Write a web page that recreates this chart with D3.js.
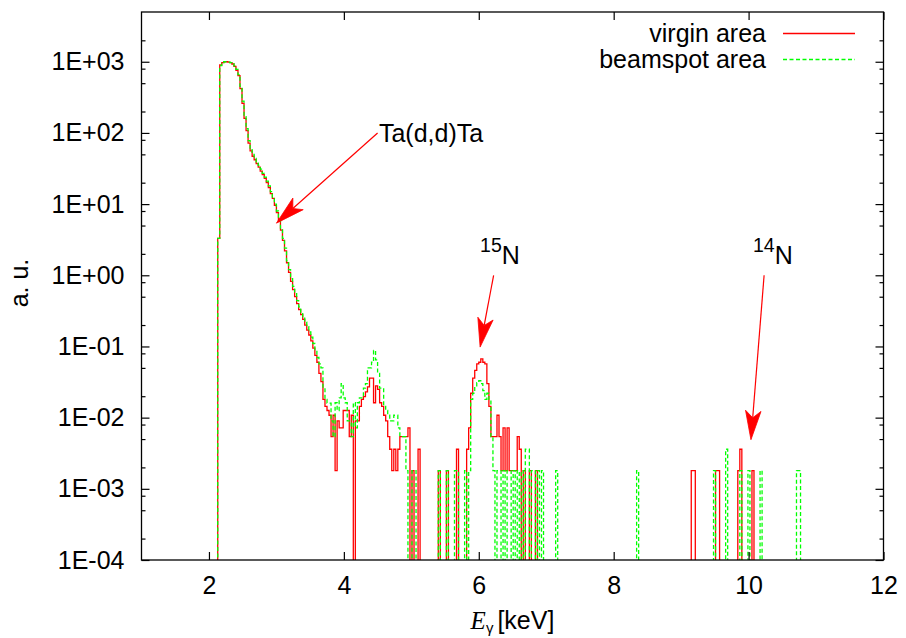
<!DOCTYPE html>
<html>
<head>
<meta charset="utf-8">
<script src="https://cdn.jsdelivr.net/npm/d3@7"></script>
<style>
  html, body { margin: 0; padding: 0; background: #fff; }
  svg { display: block; }
</style>
</head>
<body>
<script>
// Gamma spectra (arbitrary units), histogram bins of 0.03 keV starting at 2.13 keV.
const binStart = 2.13;
const binWidth = 0.03;

// Contiguous bins from 2.13 keV to 7.23 keV
const virginValues = [
  3.3, 900, 975, 1000, 1000, 990, 970, 930, 860, 760,
  640, 420, 260, 160, 108, 72, 56, 47, 42, 37,
  33, 29, 26, 23, 20, 17, 14, 12, 9.6, 7.6,
  5.8, 4.3, 3.1, 2.2, 1.5, 1.1, 0.82, 0.63, 0.5, 0.4,
  0.33, 0.28, 0.24, 0.2, 0.17, 0.145, 0.12, 0.095, 0.075, 0.06,
  0.042, 0.032, 0.018, 0.0144, 0.0126, 0.0108, 0.0054, 0.0108, 0.0018, 0.009,
  0.0072, 0.0072, 0.0126, 0.0126, 0.0126, 0.0054, 0.0108, 0, 0.009, 0.009,
  0.0144, 0.018, 0.0198, 0.023, 0.027, 0.036, 0.036, 0.0162, 0.028, 0.025,
  0.0162, 0.0144, 0.0108, 0.009, 0.0054, 0.0036, 0.0018, 0.0036, 0.0018, 0.0036,
  0.0054, 0.0054, 0.0054, 0.0054, 0.0072, 0, 0.0018, 0, 0, 0.0036,
  0, 0, 0, 0, 0, 0, 0, 0, 0, 0.0018,
  0, 0, 0, 0.0018, 0, 0, 0, 0, 0.0036, 0,
  0, 0, 0, 0.0036, 0.0072, 0.022, 0.036, 0.046, 0.057, 0.06,
  0.067, 0.06, 0.057, 0.03, 0.0144, 0.0054, 0.0054, 0.0054, 0.0108, 0.0054,
  0.0018, 0.0072, 0.0018, 0.0072, 0.0018, 0.0018, 0.0018, 0.0018, 0.0054, 0.0036,
  0, 0.0018, 0, 0, 0.0018, 0, 0, 0.0018, 0, 0,
  0, 0, 0, 0, 0, 0, 0, 0, 0, 0
];
const beamspotValues = [
  3.3, 880, 970, 1000, 1000, 990, 975, 940, 875, 780,
  660, 450, 280, 170, 115, 78, 60, 50, 44, 39,
  35, 31, 27, 24, 21, 18, 15, 12.5, 10, 8,
  6.2, 4.6, 3.3, 2.4, 1.6, 1.2, 0.9, 0.7, 0.55, 0.44,
  0.36, 0.3, 0.26, 0.22, 0.19, 0.16, 0.135, 0.11, 0.085, 0.07,
  0.057, 0.05, 0.026, 0.018, 0.016, 0.016, 0.009, 0.0054, 0.0162, 0.0126,
  0.019, 0.03, 0.019, 0.0162, 0.009, 0.009, 0.0054, 0.0162, 0.0072, 0.0162,
  0.019, 0.019, 0.026, 0.03, 0.05, 0.05, 0.06, 0.088, 0.065, 0.042,
  0.026, 0.026, 0.0144, 0.0126, 0.0108, 0.009, 0.009, 0.0108, 0.0108, 0.0072,
  0.0054, 0.0054, 0.0054, 0.0018, 0, 0, 0.0018, 0.0018, 0, 0,
  0, 0, 0, 0, 0, 0, 0, 0, 0, 0.0018,
  0, 0, 0, 0.0018, 0, 0, 0, 0.0018, 0.0018, 0,
  0, 0, 0.0018, 0, 0.0018, 0.018, 0.022, 0.027, 0.031, 0.033,
  0.03, 0.024, 0.018, 0.022, 0.018, 0.0054, 0.0018, 0, 0.0018, 0.0018,
  0, 0.0018, 0, 0.0018, 0.0018, 0, 0.0018, 0, 0.0018, 0,
  0.0018, 0, 0.0036, 0.0036, 0, 0.0018, 0.0018, 0, 0.0018, 0,
  0.0018, 0, 0, 0, 0, 0, 0, 0.0018, 0, 0
];

// Isolated high-energy bins (left edge in keV, value)
const virginTailE = [9.15, 9.18, 9.51, 9.54, 9.84, 9.87, 10.05];
const virginTailV = [0.0018, 0.0018, 0.0018, 0.0018, 0.0018, 0.0036, 0.0018];
const beamspotTailE = [8.34, 9.48, 9.66, 9.87, 9.99, 10.17, 10.71, 10.74];
const beamspotTailV = [0.0018, 0.0018, 0.0036, 0.0018, 0.0018, 0.0018, 0.0018, 0.0018];

const seriesNames = ["virgin area", "beamspot area"];
const seriesColors = ["#ff0000", "#00ff00"];

// Axes
const xDomain = [1, 12];
const yDomain = [1e-4, 5000];
const xTicks = [2, 4, 6, 8, 10, 12];
const yMajorTicks = [1e-4, 1e-3, 1e-2, 1e-1, 1, 10, 100, 1000];
const yMinorFactors = [2, 5, 8];
const xTitle = "[keV]";
const yTitle = "a. u.";

// Annotations: label, label anchor (keV, a.u.), arrow tail, arrow head
const noteLabels = ["Ta(d,d)Ta", "15|N", "14|N"];
const noteAt = [[4.52, 100], [6.02, 1.9], [10.065, 1.9]];
const arrowFrom = [[4.5, 100], [6.22, 1.0], [10.23, 1.0]];
const arrowTo = [[3.0, 5.4], [6.02, 0.098], [10.035, 0.0049]];

// ---------------------------------------------------------------
const W = 906, H = 638;
const plot = { left: 141.5, right: 883.5, top: 12, bottom: 560 };
const FONT = "'Liberation Sans', Arial, Helvetica, sans-serif";
const FS = 25;

const svg = d3.select("body").append("svg")
  .attr("width", W).attr("height", H)
  .style("background", "#fff");

const x = d3.scaleLinear().domain(xDomain).range([plot.left, plot.right]);
const y = d3.scaleLog().domain(yDomain).range([plot.bottom, plot.top]);

svg.append("clipPath").attr("id", "plotclip")
  .append("rect")
  .attr("x", plot.left).attr("y", plot.top)
  .attr("width", plot.right - plot.left).attr("height", plot.bottom - plot.top);

function denseBins(values, tailE, tailV) {
  const n = 292;
  const arr = new Array(n).fill(0);
  values.forEach((v, i) => { arr[i] = v; });
  tailE.forEach((e, j) => { arr[Math.round((e - binStart) / binWidth)] = tailV[j]; });
  return arr;
}

function stepPoints(arr) {
  const pts = [[binStart, 0]];
  arr.forEach((v, i) => {
    const e0 = binStart + i * binWidth;
    pts.push([e0, v], [e0 + binWidth, v]);
  });
  pts.push([binStart + arr.length * binWidth, 0]);
  return pts;
}

// Empty bins fall below the plot floor and are clipped away
const yBelow = plot.bottom + 30;
const line = d3.line()
  .x(d => x(d[0]))
  .y(d => d[1] > 0 ? y(d[1]) : yBelow);

const series = [
  denseBins(virginValues, virginTailE, virginTailV),
  denseBins(beamspotValues, beamspotTailE, beamspotTailV)
];

const dataG = svg.append("g").attr("clip-path", "url(#plotclip)");
series.forEach((arr, s) => {
  dataG.append("path")
    .attr("d", line(stepPoints(arr)))
    .attr("fill", "none")
    .attr("stroke", seriesColors[s])
    .attr("stroke-width", 1.3)
    .attr("stroke-dasharray", s === 1 ? "4,2.5" : null);
});

// Tick marks (inward, mirrored on all sides)
const yMinor = [];
yMajorTicks.forEach(t => yMinorFactors.forEach(f => {
  const v = t * f;
  if (v < yDomain[1]) yMinor.push(v);
}));

function fmtExp(v) {
  const e = Math.round(Math.log10(v));
  const s = e < 0 ? "-" : "+";
  return "1E" + s + String(Math.abs(e)).padStart(2, "0");
}

function styleAxis(g) {
  g.select(".domain").remove();
  g.selectAll(".tick line").attr("stroke", "#000").attr("stroke-width", 1.2);
  g.selectAll(".tick text")
    .attr("font-family", FONT).attr("font-size", FS).attr("fill", "#000");
}

svg.append("g").attr("transform", `translate(${plot.left},0)`)
  .call(d3.axisLeft(y).tickValues(yMajorTicks).tickFormat(fmtExp).tickSize(-8).tickPadding(17))
  .call(styleAxis);
svg.append("g").attr("transform", `translate(${plot.left},0)`)
  .call(d3.axisLeft(y).tickValues(yMinor).tickFormat("").tickSize(-4))
  .call(styleAxis);
svg.append("g").attr("transform", `translate(${plot.right},0)`)
  .call(d3.axisRight(y).tickValues(yMajorTicks).tickFormat("").tickSize(-8))
  .call(styleAxis);
svg.append("g").attr("transform", `translate(${plot.right},0)`)
  .call(d3.axisRight(y).tickValues(yMinor).tickFormat("").tickSize(-4))
  .call(styleAxis);
svg.append("g").attr("transform", `translate(0,${plot.bottom})`)
  .call(d3.axisBottom(x).tickValues(xTicks).tickFormat(d3.format("d")).tickSize(-8).tickPadding(16.5))
  .call(styleAxis);
svg.append("g").attr("transform", `translate(0,${plot.top})`)
  .call(d3.axisTop(x).tickValues(xTicks).tickFormat("").tickSize(-8))
  .call(styleAxis);

// Frame
svg.append("rect")
  .attr("x", plot.left).attr("y", plot.top)
  .attr("width", plot.right - plot.left).attr("height", plot.bottom - plot.top)
  .attr("fill", "none").attr("stroke", "#000").attr("stroke-width", 1.3);

// Axis titles
const xt = svg.append("text")
  .attr("x", (plot.left + plot.right) / 2).attr("y", 628.5)
  .attr("text-anchor", "middle")
  .attr("font-family", FONT).attr("font-size", FS).attr("fill", "#000");
xt.append("tspan").attr("font-family", "'Liberation Serif', 'Times New Roman', serif")
  .attr("font-style", "italic").text("E");
xt.append("tspan").attr("font-size", 15).attr("dy", 4).text("\u03b3");
xt.append("tspan").attr("dy", -4).attr("dx", 4).text(xTitle);

svg.append("text")
  .attr("transform", "translate(28,283) rotate(-90)")
  .attr("text-anchor", "middle")
  .attr("font-family", FONT).attr("font-size", FS).attr("fill", "#000")
  .text(yTitle);

// Legend
const legend = svg.append("g");
seriesNames.forEach((name, i) => {
  const ly = 33.5 + i * 26;
  legend.append("text")
    .attr("x", 766).attr("y", ly + 8.5)
    .attr("text-anchor", "end")
    .attr("font-family", FONT).attr("font-size", FS).attr("fill", "#000")
    .text(name);
  legend.append("line")
    .attr("x1", 783).attr("x2", 855).attr("y1", ly).attr("y2", ly)
    .attr("stroke", seriesColors[i]).attr("stroke-width", 1.3)
    .attr("stroke-dasharray", i === 1 ? "4,2.5" : null);
});

// Annotations
const noteG = svg.append("g");
noteLabels.forEach((lab, i) => {
  const [ex, ev] = noteAt[i];
  const t = noteG.append("text")
    .attr("x", x(ex)).attr("y", y(ev) + 9)
    .attr("font-family", FONT).attr("font-size", FS).attr("fill", "#000");
  if (lab.includes("|")) {
    const [sup, base] = lab.split("|");
    t.append("tspan").attr("font-size", 19.5).attr("dy", -12).text(sup);
    t.append("tspan").attr("dy", 12).text(base);
  } else {
    t.text(lab);
  }
});

arrowFrom.forEach((from, i) => {
  const x0 = x(from[0]), y0 = y(from[1]);
  const x1 = x(arrowTo[i][0]), y1 = y(arrowTo[i][1]);
  const dx = x1 - x0, dy = y1 - y0, len = Math.hypot(dx, dy);
  const ux = dx / len, uy = dy / len;
  const px = -uy, py = ux;
  const L = 30, ang = 15 * Math.PI / 180, back = 22;
  const bx = x1 - L * Math.cos(ang) * ux, by = y1 - L * Math.cos(ang) * uy;
  const hw = L * Math.sin(ang);
  const w1 = [bx + hw * px, by + hw * py];
  const w2 = [bx - hw * px, by - hw * py];
  const bk = [x1 - back * ux, y1 - back * uy];
  noteG.append("line")
    .attr("x1", x0).attr("y1", y0).attr("x2", bk[0]).attr("y2", bk[1])
    .attr("stroke", "#ff0000").attr("stroke-width", 1.2);
  noteG.append("path")
    .attr("d", `M${x1},${y1}L${w1[0]},${w1[1]}L${bk[0]},${bk[1]}L${w2[0]},${w2[1]}Z`)
    .attr("fill", "#ff0000").attr("stroke", "#ff0000").attr("stroke-width", 0.8);
});
</script>
</body>
</html>
